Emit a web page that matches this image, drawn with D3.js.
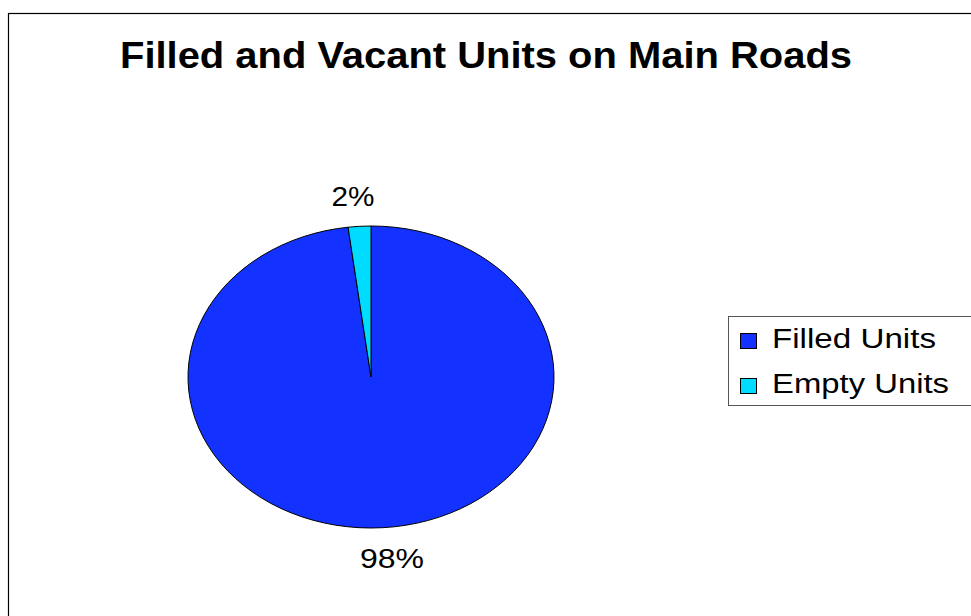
<!DOCTYPE html>
<html>
<head>
<meta charset="utf-8">
<script src="https://cdn.jsdelivr.net/npm/d3@7"></script>
<style>
  body { margin: 0; background: #fff; }
  text { font-family: "Liberation Sans", Arial, sans-serif; }
</style>
</head>
<body>
<div id="chart"></div>
<script>
// data
const categories = ['Filled Units', 'Empty Units'];
const shares = [98, 2];
const sliceLabels = ['98%', '2%'];
const colors = ['#1432ff', '#00dcff'];

const width = 971, height = 616;

const svg = d3.select('#chart').append('svg')
  .attr('width', width)
  .attr('height', height);

svg.append('rect').attr('width', width).attr('height', height).attr('fill', '#fff');

// outer frame
svg.append('rect')
  .attr('x', 8.5).attr('y', 13.5)
  .attr('width', 1000).attr('height', 700)
  .attr('fill', 'none')
  .attr('stroke', '#000')
  .attr('stroke-width', 1.2);

// title
svg.append('text')
  .attr('x', 486).attr('y', 68)
  .attr('text-anchor', 'middle')
  .attr('font-size', '37px')
  .attr('font-weight', 'bold')
  .attr('textLength', 732)
  .attr('lengthAdjust', 'spacingAndGlyphs')
  .text('Filled and Vacant Units on Main Roads');

// pie (drawn as an ellipse)
const cx = 371, cy = 377, rx = 183, ry = 151;
const pie = d3.pie().sort(null).value(d => d);
const arcs = pie(shares);
const arc = d3.arc().innerRadius(0).outerRadius(rx);

const pieG = svg.append('g')
  .attr('transform', 'translate(' + cx + ',' + cy + ') scale(1,' + (ry / rx) + ')');

pieG.selectAll('path')
  .data(arcs)
  .enter().append('path')
    .attr('d', arc)
    .attr('fill', (d, i) => colors[i])
    .attr('stroke', '#000')
    .attr('stroke-width', 1)
    .attr('vector-effect', 'non-scaling-stroke');

// slice labels
const labelPos = [[392, 568, 64], [353, 206, 43]];
svg.selectAll('text.slice-label')
  .data(arcs)
  .enter().append('text')
    .attr('class', 'slice-label')
    .attr('x', (d, i) => labelPos[i][0])
    .attr('y', (d, i) => labelPos[i][1])
    .attr('text-anchor', 'middle')
    .attr('font-size', '27px')
    .attr('textLength', (d, i) => labelPos[i][2])
    .attr('lengthAdjust', 'spacingAndGlyphs')
    .text((d, i) => sliceLabels[i]);

// legend
const legendG = svg.append('g').attr('transform', 'translate(728,316)');
legendG.append('rect')
  .attr('x', 0.5).attr('y', 0.5)
  .attr('width', 300).attr('height', 89)
  .attr('fill', '#fff')
  .attr('stroke', '#555')
  .attr('stroke-width', 1);

const legendWidths = [164, 177];
const items = legendG.selectAll('g.item')
  .data(categories)
  .enter().append('g')
    .attr('class', 'item')
    .attr('transform', (d, i) => 'translate(0,' + (i * 45) + ')');

items.append('rect')
  .attr('x', 12.5).attr('y', 17.5)
  .attr('width', 16).attr('height', 15)
  .attr('fill', (d, i) => colors[i])
  .attr('stroke', '#000')
  .attr('stroke-width', 1);

items.append('text')
  .attr('x', 44).attr('y', 32)
  .attr('font-size', '27px')
  .attr('textLength', (d, i) => legendWidths[i])
  .attr('lengthAdjust', 'spacingAndGlyphs')
  .text(d => d);
</script>
</body>
</html>
